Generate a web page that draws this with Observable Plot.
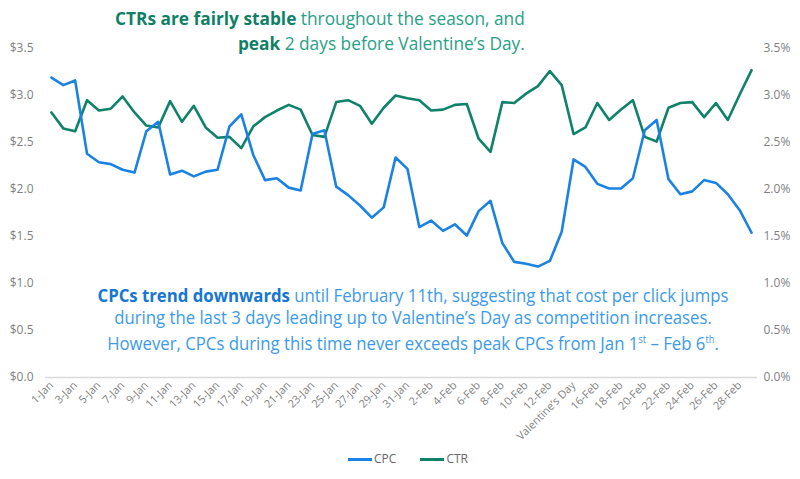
<!DOCTYPE html>
<html>
<head>
<meta charset="utf-8">
<script src="https://cdn.jsdelivr.net/npm/d3@7"></script>
<script src="https://cdn.jsdelivr.net/npm/@observablehq/plot@0.6"></script>
<style>
  html, body { margin: 0; padding: 0; background: #fff; }
  #wrap { position: relative; width: 800px; height: 479px; font-family: "Open Sans", sans-serif; overflow: hidden; }
  #wrap svg { position: absolute; left: 0; top: 0; }
  .note { position: absolute; white-space: nowrap; }
  #title { right: 275px; top: 6px; text-align: right; font-size: 18px; line-height: 25px; color: #2aa086; transform-origin: right top; transform: scaleX(0.96); }
  #title b { color: #0f7f66; }
  #note2 { left: 0; width: 826px; top: 284px; text-align: center; font-size: 18px; line-height: 22px; color: #3d9ae9; transform-origin: 413px 0; transform: scaleX(0.93); }
  #note2 b { color: #1676d6; }
  #legend { position: absolute; top: 450px; left: 0; width: 816px; text-align: center; font-size: 12px; color: #666; }
  .sw { display: inline-block; width: 24px; height: 3px; vertical-align: middle; margin-right: 2px; }
  .li { display: inline-block; margin: 0 12px; }
</style>
</head>
<body>
<div id="wrap">
  <div id="plot"></div>
  <div class="note" id="title"><b>CTRs are fairly stable</b> throughout the season, and<br><b>peak</b> 2 days before Valentine’s Day.</div>
  <div class="note" id="note2"><b>CPCs trend downwards</b> until February 11th, suggesting that cost per click jumps<br>during the last 3 days leading up to Valentine’s Day as competition increases.<br>However, CPCs during this time never exceeds peak CPCs from Jan 1<sup style="font-size:10px">st</sup> – Feb 6<sup style="font-size:10px">th</sup>.</div>
  <div id="legend"><span class="li"><span class="sw" style="background:#1a82e2"></span>CPC</span><span class="li"><span class="sw" style="background:#0f826a"></span>CTR</span></div>
</div>
<script>
const dates = [
  "1-Jan","2-Jan","3-Jan","4-Jan","5-Jan","6-Jan","7-Jan","8-Jan","9-Jan","10-Jan",
  "11-Jan","12-Jan","13-Jan","14-Jan","15-Jan","16-Jan","17-Jan","18-Jan","19-Jan","20-Jan",
  "21-Jan","22-Jan","23-Jan","24-Jan","25-Jan","26-Jan","27-Jan","28-Jan","29-Jan","30-Jan",
  "31-Jan","1-Feb","2-Feb","3-Feb","4-Feb","5-Feb","6-Feb","7-Feb","8-Feb","9-Feb",
  "10-Feb","11-Feb","12-Feb","13-Feb","Valentine’s Day","15-Feb","16-Feb","17-Feb","18-Feb","19-Feb",
  "20-Feb","21-Feb","22-Feb","23-Feb","24-Feb","25-Feb","26-Feb","27-Feb","28-Feb","29-Feb"
];
const cpc = [
  3.19,3.11,3.16,2.38,2.29,2.27,2.21,2.18,2.62,2.72,
  2.16,2.20,2.14,2.19,2.21,2.67,2.80,2.37,2.10,2.12,
  2.02,1.99,2.59,2.63,2.03,1.94,1.83,1.70,1.81,2.34,
  2.22,1.60,1.67,1.56,1.63,1.51,1.77,1.88,1.43,1.23,
  1.21,1.18,1.24,1.55,2.32,2.24,2.06,2.01,2.01,2.12,
  2.63,2.74,2.11,1.95,1.98,2.10,2.07,1.95,1.78,1.54
];
const ctr = [
  2.82,2.65,2.62,2.95,2.84,2.86,2.99,2.82,2.68,2.66,
  2.94,2.72,2.89,2.66,2.55,2.56,2.44,2.67,2.77,2.84,
  2.90,2.85,2.58,2.56,2.93,2.95,2.89,2.70,2.87,3.00,
  2.97,2.95,2.84,2.85,2.90,2.91,2.54,2.40,2.93,2.92,
  3.02,3.10,3.26,3.11,2.59,2.66,2.92,2.74,2.85,2.95,
  2.56,2.51,2.87,2.92,2.93,2.77,2.92,2.74,3.01,3.27
];
const xTicks = dates.filter((d, i) => i % 2 === 0);
const yTicks = [0, 0.5, 1, 1.5, 2, 2.5, 3, 3.5];

const cpcData = dates.map((d, i) => ({date: d, value: cpc[i]}));
const ctrData = dates.map((d, i) => ({date: d, value: ctr[i]}));

const chart = Plot.plot({
  width: 800,
  height: 479,
  marginTop: 48,
  marginBottom: 102,
  marginLeft: 45,
  marginRight: 43,
  style: {fontFamily: "Open Sans, sans-serif", background: "transparent"},
  x: {type: "point", domain: dates, padding: 0.5},
  y: {domain: [0, 3.5]},
  marks: [
    Plot.ruleY([0], {stroke: "#d9d9d9", strokeWidth: 1.3}),
    Plot.axisY(yTicks, {anchor: "left", tickSize: 0, tickPadding: 12, tickFormat: d => "$" + d.toFixed(1), fill: "#7f7f7f", fontSize: 12, label: null}),
    Plot.axisY(yTicks, {anchor: "right", tickSize: 0, tickPadding: 6, tickFormat: d => d.toFixed(1) + "%", fill: "#7f7f7f", fontSize: 12, label: null}),
    Plot.axisX(xTicks, {tickSize: 0, tickRotate: -45, tickPadding: 6, fill: "#7f7f7f", fontSize: 11, label: null}),
    Plot.line(ctrData, {x: "date", y: "value", stroke: "#0f826a", strokeWidth: 2.6}),
    Plot.line(cpcData, {x: "date", y: "value", stroke: "#1a82e2", strokeWidth: 2.6})
  ]
});
document.getElementById("plot").appendChild(chart);
</script>
</body>
</html>
